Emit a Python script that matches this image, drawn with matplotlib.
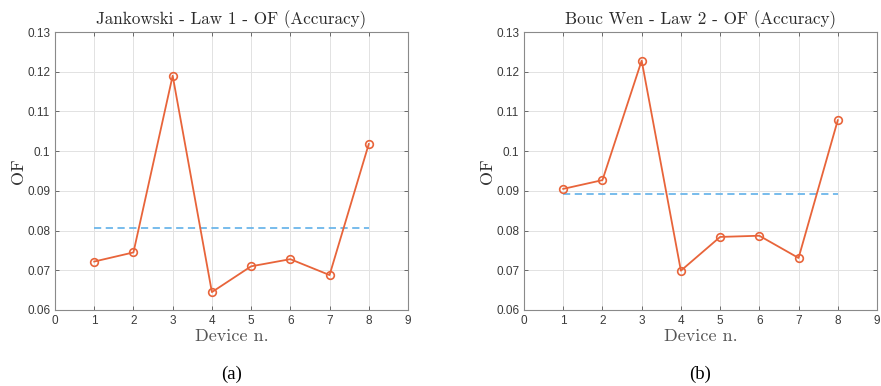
import matplotlib.pyplot as plt

# values
devices = [1, 2, 3, 4, 5, 6, 7, 8]
of_jankowski = [0.0722, 0.0745, 0.1190, 0.0645, 0.0710, 0.0728, 0.0688, 0.1018]
of_boucwen = [0.0905, 0.0927, 0.1228, 0.0699, 0.0784, 0.0787, 0.0731, 0.1078]
avg_jankowski = 0.0806
avg_boucwen = 0.0893

titles = ['Jankowski - Law 1 - OF (Accuracy)', 'Bouc Wen - Law 2 - OF (Accuracy)']
captions = ['(a)', '(b)']
xticks = [0, 1, 2, 3, 4, 5, 6, 7, 8, 9]
yticks = [0.06, 0.07, 0.08, 0.09, 0.10, 0.11, 0.12, 0.13]
ytick_labels = ['0.06', '0.07', '0.08', '0.09', '0.1', '0.11', '0.12', '0.13']

line_color = '#e8643a'
mean_color = '#6cb6ea'

fig = plt.figure(figsize=(8.81, 3.86), dpi=100)

# axes boxes in figure fractions (left, bottom, width, height)
boxes = [[55 / 881, 1 - 310 / 386, 353 / 881, 278 / 386],
         [524 / 881, 1 - 310 / 386, 353 / 881, 278 / 386]]
caption_x = [(55 + 408) / 2 / 881, (524 + 877) / 2 / 881]

series = [of_jankowski, of_boucwen]
means = [avg_jankowski, avg_boucwen]

for i in range(2):
    ax = fig.add_axes(boxes[i])
    ax.plot([devices[0], devices[-1]], [means[i], means[i]], '--',
            color=mean_color, linewidth=1.3, dashes=(4, 2.5))
    ax.plot(devices, series[i], '-o', color=line_color, linewidth=1.3,
            markersize=5.5, markerfacecolor='none', markeredgewidth=1.2)

    ax.set_xlim(0, 9)
    ax.set_ylim(0.06, 0.13)
    ax.set_xticks(xticks)
    ax.set_yticks(yticks)
    ax.set_yticklabels(ytick_labels)
    ax.tick_params(labelsize=8.5, labelcolor='#3a3a3a', color='#555555',
                   direction='in', length=3, width=0.6, top=True, right=True)
    for lbl in ax.get_xticklabels() + ax.get_yticklabels():
        lbl.set_family('Liberation Sans')
    for s in ax.spines.values():
        s.set_color('#8a8a8a')
        s.set_linewidth(0.8)
    ax.grid(True, color='#e2e2e2', linewidth=0.7)
    ax.set_axisbelow(True)

    ax.set_title(titles[i], fontsize=12.3, family='cmr10', color='#2a2a2a', pad=6)
    ax.set_xlabel('Device n.', fontsize=13, family='cmr10', color='#555555', labelpad=1)
    ax.set_ylabel('OF', fontsize=13, family='cmr10', color='#333333', labelpad=1)

    fig.text(caption_x[i], 1 - 374 / 386, captions[i], ha='center', va='center',
             fontsize=13.5, family='Liberation Serif', color='black')

plt.savefig('out.png', dpi=100)
